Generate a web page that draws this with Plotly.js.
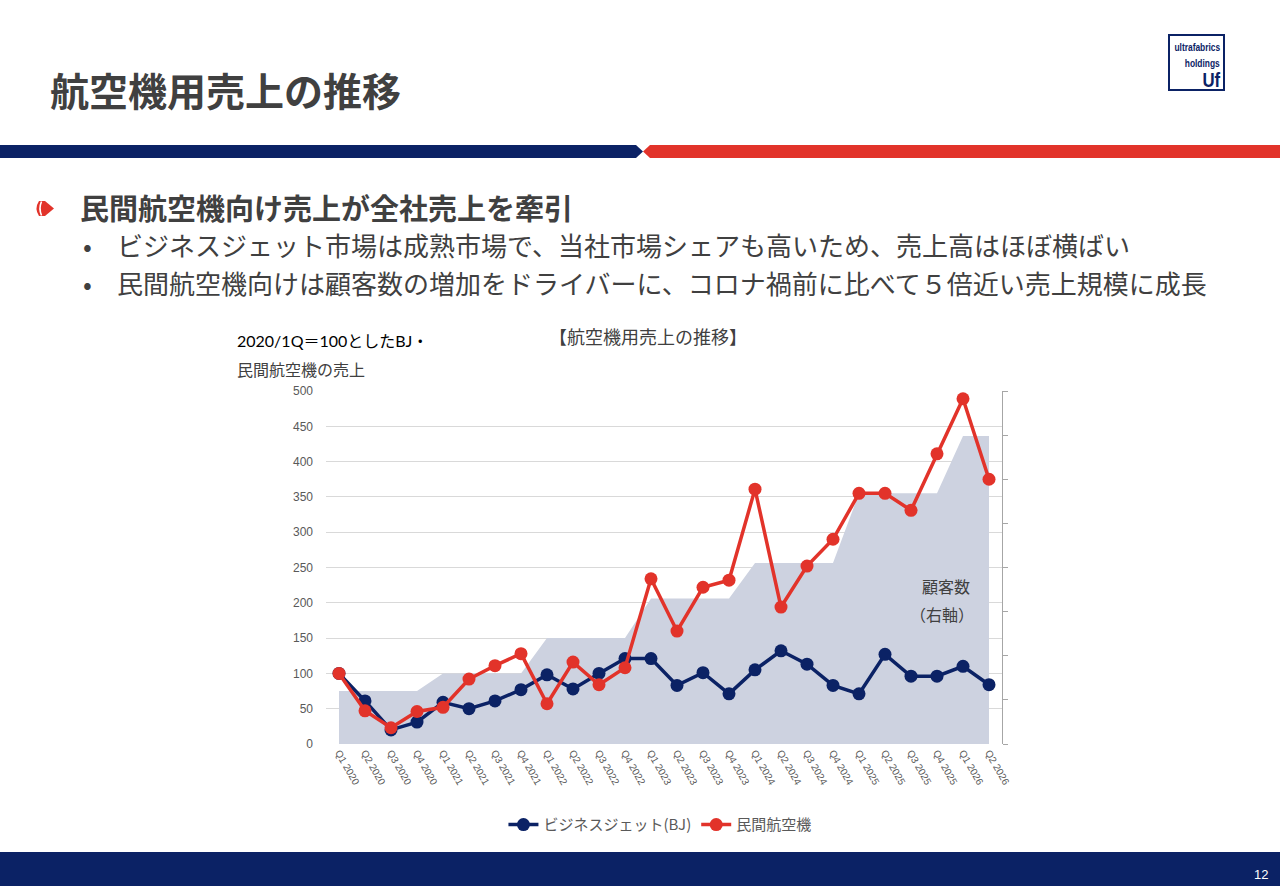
<!DOCTYPE html>
<html>
<head>
<meta charset="utf-8">
<script src="https://cdn.plot.ly/plotly-3.0.1.min.js"></script>
<style>
  html, body { margin:0; padding:0; background:#fff; }
  body { width:1280px; height:886px; position:relative; overflow:hidden;
         font-family:"Noto Sans CJK JP","Noto Sans",sans-serif; color:#404040; }
  .abs { position:absolute; white-space:nowrap; line-height:1; }
  #chart { position:absolute; left:0; top:0; width:1280px; height:886px; }
  .logo span { position:absolute; right:3px; font-weight:bold; white-space:nowrap;
               transform-origin: right center; transform: scaleX(0.8); }
</style>
</head>
<body>
<div class="abs" style="left:50px; top:70px; font-size:39px; font-weight:bold; color:#404040;">航空機用売上の推移</div>

<div class="abs logo" style="left:1168px; top:34px; width:53px; height:53px; border:2px solid #0b2265; font-family:'Liberation Sans',sans-serif; color:#0b2265;">
  <span style="top:5px; font-size:10.5px; line-height:12px;">ultrafabrics</span>
  <span style="top:21px; font-size:10.5px; line-height:12px;">holdings</span>
  <span style="top:34px; font-size:21px; line-height:20px;">Uf</span>
</div>

<svg class="abs" style="left:0; top:140px;" width="1280" height="24">
  <polygon points="0,5 636,5 643,11.5 636,18 0,18" fill="#0b2265"/>
  <polygon points="650,5 1280,5 1280,18 650,18 643,11.5" fill="#e2332a"/>
</svg>

<svg class="abs" style="left:32px; top:197px;" width="26" height="24">
  <path d="M7,4 L13,4 L22,11.5 L13,19 L7,19 Q2,11.5 7,4 Z" fill="#e2332a"/>
  <path d="M9.5,4.5 Q6.5,11.5 9.5,18.5" stroke="#ffffff" stroke-width="1.6" fill="none"/>
</svg>

<div class="abs" style="left:80px; top:193px; font-size:29px; font-weight:bold;">民間航空機向け売上が全社売上を牽引</div>
<div class="abs" style="left:83px; top:232px; font-size:26px;">•</div>
<div class="abs" style="left:117px; top:232px; font-size:26px;">ビジネスジェット市場は成熟市場で、当社市場シェアも高いため、売上高はほぼ横ばい</div>
<div class="abs" style="left:83px; top:270px; font-size:26px;">•</div>
<div class="abs" style="left:117px; top:270px; font-size:26px;">民間航空機向けは顧客数の増加をドライバーに、コロナ禍前に比べて５倍近い売上規模に成長</div>

<div class="abs" style="left:0; top:852px; width:1280px; height:34px; background:#0b2265;"></div>
<div class="abs" style="left:1254px; top:868px; font-size:13px; color:#ffffff; font-family:'Liberation Sans',sans-serif;">12</div>

<div id="chart"></div>

<script>
const quarters = ["Q1 2020","Q2 2020","Q3 2020","Q4 2020",
  "Q1 2021","Q2 2021","Q3 2021","Q4 2021",
  "Q1 2022","Q2 2022","Q3 2022","Q4 2022",
  "Q1 2023","Q2 2023","Q3 2023","Q4 2023",
  "Q1 2024","Q2 2024","Q3 2024","Q4 2024",
  "Q1 2025","Q2 2025","Q3 2025","Q4 2025",
  "Q1 2026","Q2 2026"];

// Business jet sales index (2020/1Q = 100)
const bizJet = [100, 61, 20, 31, 59, 50, 61, 77, 98, 78, 100, 121,
  121, 83, 101, 71, 105, 132, 113, 83, 71, 127, 96, 96, 110, 84];

// Commercial aircraft sales index (2020/1Q = 100)
const commercial = [100, 47, 23, 46, 52, 92, 111, 128, 57, 116, 84, 108,
  234, 160, 222, 232, 361, 194, 252, 290, 355, 355, 331, 411, 489, 375];

// Number of customers (right axis, unlabeled)
const customers = [60, 60, 60, 60, 80, 80, 80, 80, 120, 120, 120, 120,
  165, 165, 165, 165, 205, 205, 205, 205, 284, 284, 284, 284, 349, 349];

const seriesNames = ["ビジネスジェット(BJ)", "民間航空機"];

const navy = "#0b2265";
const red = "#e2332a";
const cjk = "Noto Sans CJK JP, Noto Sans, sans-serif";
const latin = "Liberation Sans, Arial, sans-serif";

const traces = [
  {
    x: quarters, y: customers, yaxis: "y", type: "scatter", mode: "lines",
    fill: "tozeroy", fillcolor: "#cdd2e0", line: {width: 0, color: "#cdd2e0"},
    showlegend: false, hoverinfo: "skip"
  },
  {
    x: quarters, y: bizJet, yaxis: "y2", type: "scatter", mode: "lines+markers",
    name: seriesNames[0],
    line: {color: navy, width: 3.5}, marker: {color: navy, size: 13}
  },
  {
    x: quarters, y: commercial, yaxis: "y2", type: "scatter", mode: "lines+markers",
    name: seriesNames[1],
    line: {color: red, width: 3.5}, marker: {color: red, size: 13}
  }
];

const layout = {
  width: 1280, height: 886,
  margin: {l: 326, r: 278, t: 391, b: 142, pad: 0},
  paper_bgcolor: "rgba(0,0,0,0)",
  plot_bgcolor: "rgba(0,0,0,0)",
  font: {family: latin, color: "#595959"},
  showlegend: true,
  legend: {
    orientation: "h", x: 0.494, xanchor: "center", y: -0.229, yanchor: "middle",
    font: {family: cjk, size: 15, color: "#595959"}, traceorder: "normal"
  },
  xaxis: {
    type: "category", range: [-0.5, 25.5], tickangle: 60,
    tickfont: {family: latin, size: 10, color: "#595959"},
    showgrid: false, showline: false, zeroline: false, ticks: "",
    fixedrange: true
  },
  // right axis: customers (no labels)
  yaxis: {
    range: [0, 400], dtick: 50, tick0: 0, side: "right",
    showticklabels: false, showgrid: false, zeroline: false,
    showline: true, linecolor: "#a6a6a6", linewidth: 1,
    ticks: "outside", ticklen: 5, tickcolor: "#a6a6a6", fixedrange: true
  },
  // left axis: sales index
  yaxis2: {
    range: [0, 500], dtick: 50, tick0: 0, overlaying: "y", side: "left",
    tickfont: {family: latin, size: 12, color: "#595959"},
    showgrid: true, gridcolor: "#d9d9d9", gridwidth: 1, showline: false, zeroline: false,
    ticks: "", ticklabelstandoff: 12, fixedrange: true
  },
  annotations: [
    {text: "【航空機用売上の推移】", xref: "paper", yref: "paper", x: 0.476, y: 1.156,
     xanchor: "center", yanchor: "middle", showarrow: false,
     font: {family: cjk, size: 18, color: "#404040"}},
    {text: "2020/1Q＝100としたBJ・", xref: "paper", yref: "paper", x: -0.1346, y: 1.142,
     xanchor: "left", yanchor: "middle", showarrow: false,
     font: {family: "Lato, Noto Sans CJK JP, sans-serif", size: 16, color: "#000000"}},
    {text: "民間航空機の売上", xref: "paper", yref: "paper", x: -0.1346, y: 1.062,
     xanchor: "left", yanchor: "middle", showarrow: false,
     font: {family: cjk, size: 16, color: "#404040"}},
    {text: "顧客数", xref: "paper", yref: "paper", x: 0.917, y: 0.448,
     xanchor: "center", yanchor: "middle", showarrow: false,
     font: {family: cjk, size: 16, color: "#404040"}},
    {text: "（右軸）", xref: "paper", yref: "paper", x: 0.911, y: 0.368,
     xanchor: "center", yanchor: "middle", showarrow: false,
     font: {family: cjk, size: 16, color: "#404040"}}
  ]
};

Plotly.newPlot("chart", traces, layout, {displayModeBar: false, staticPlot: true});
</script>
</body>
</html>
